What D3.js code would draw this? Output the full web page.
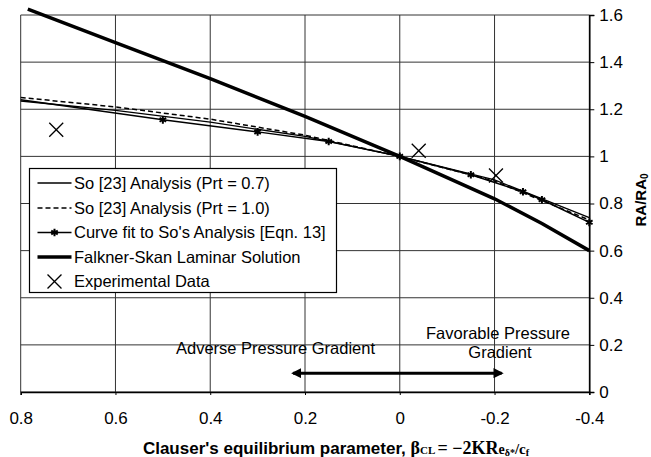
<!DOCTYPE html>
<html>
<head>
<meta charset="utf-8">
<script src="https://cdn.jsdelivr.net/npm/d3@7"></script>
<style>
  body { margin: 0; background: #fff; }
  text { font-family: "Liberation Sans", Arial, sans-serif; }
</style>
</head>
<body>
<svg id="chart" width="651" height="457"></svg>
<script>
// ---- data ----
const betaSo = [0.8, 0.6, 0.4, 0.2, 0, -0.2, -0.4];
const soPrt07 = [1.235, 1.195, 1.145, 1.085, 1.0, 0.9, 0.74];
const soPrt10 = [1.25, 1.21, 1.158, 1.09, 1.0, 0.895, 0.73];

const betaFit = [0.8, 0.5, 0.3, 0.15, 0, -0.15, -0.26, -0.3, -0.4];
const curveFit = [1.24, 1.155, 1.104, 1.063, 1.0, 0.922, 0.85, 0.816, 0.72];

const betaFS = [0.785, 0.6, 0.4, 0.2, 0, -0.1, -0.2, -0.3, -0.4];
const falknerSkan = [1.625, 1.483, 1.33, 1.17, 1.0, 0.91, 0.82, 0.715, 0.6];

const betaExp = [0.725, -0.04, -0.203];
const expData = [1.113, 1.024, 0.919];

const xTicks = [0.8, 0.6, 0.4, 0.2, 0, -0.2, -0.4];
const yTicks = [0, 0.2, 0.4, 0.6, 0.8, 1, 1.2, 1.4, 1.6];

const legendLabels = [
  "So [23] Analysis (Prt = 0.7)",
  "So [23] Analysis (Prt = 1.0)",
  "Curve fit to So's Analysis [Eqn. 13]",
  "Falkner-Skan Laminar Solution",
  "Experimental Data"
];

const svg = d3.select('#chart');

// plot box
const x = d3.scaleLinear().domain([0.8, -0.4]).range([20.7, 589.3]);
const y = d3.scaleLinear().domain([0, 1.6]).range([392, 15]);

// grid
const grid = svg.append('g');
grid.selectAll('.gx').data(xTicks).enter().append('line')
  .attr('x1', d => x(d)).attr('x2', d => x(d))
  .attr('y1', y(0)).attr('y2', y(1.6))
  .attr('stroke', '#333').attr('stroke-width', 1);
grid.selectAll('.gy').data(yTicks).enter().append('line')
  .attr('x1', x(0.8)).attr('x2', x(-0.4))
  .attr('y1', d => y(d)).attr('y2', d => y(d))
  .attr('stroke', '#333').attr('stroke-width', 1);

// axes
const yAxis = d3.axisRight(y).tickValues(yTicks).tickSize(5).tickPadding(5)
  .tickFormat(d => String(+d.toFixed(1)));
const yg = svg.append('g').attr('transform', `translate(${x(-0.4)},0)`).call(yAxis);
yg.select('.domain').attr('stroke', '#000').attr('stroke-width', 1.5);
yg.selectAll('text').attr('font-size', 17).attr('fill', '#000')
  .style('font-family', '"Liberation Sans", Arial, sans-serif');

const xAxis = d3.axisBottom(x).tickValues(xTicks).tickSize(3).tickPadding(17)
  .tickFormat(d => String(+d.toFixed(1)));
const xg = svg.append('g').attr('transform', `translate(0,${y(0)})`).call(xAxis);
xg.select('.domain').attr('stroke', '#000').attr('stroke-width', 1.5);
xg.selectAll('text').attr('font-size', 17).attr('fill', '#000')
  .style('font-family', '"Liberation Sans", Arial, sans-serif');

// series
const line = d3.line().x(d => x(d[0])).y(d => y(d[1]));

svg.append('path').datum(d3.zip(betaSo, soPrt07)).attr('d', line)
  .attr('fill', 'none').attr('stroke', '#000').attr('stroke-width', 1.3);
svg.append('path').datum(d3.zip(betaSo, soPrt10)).attr('d', line)
  .attr('fill', 'none').attr('stroke', '#000').attr('stroke-width', 1.5)
  .attr('stroke-dasharray', '5,3');
svg.append('path').datum(d3.zip(betaFit, curveFit)).attr('d', line)
  .attr('fill', 'none').attr('stroke', '#000').attr('stroke-width', 1.5);
svg.append('path').datum(d3.zip(betaFS, falknerSkan)).attr('d', line)
  .attr('fill', 'none').attr('stroke', '#000').attr('stroke-width', 3.5);

const star = d3.symbol().type(d3.symbolAsterisk).size(40);
const fitPts = d3.zip(betaFit, curveFit).slice(1);
svg.selectAll('.fitpt').data(fitPts).enter().append('path')
  .attr('d', star).attr('transform', d => `translate(${x(d[0])},${y(d[1])})`)
  .attr('stroke', '#000').attr('stroke-width', 2).attr('fill', 'none');

const cross = d3.symbol().type(d3.symbolTimes).size(90);
svg.selectAll('.exp').data(d3.zip(betaExp, expData)).enter().append('path')
  .attr('d', cross).attr('transform', d => `translate(${x(d[0])},${y(d[1])}) scale(1.2)`)
  .attr('fill', 'none').attr('stroke', '#000').attr('stroke-width', 1.1);

// legend
const lg = svg.append('g');
lg.append('rect').attr('x', 29.5).attr('y', 168.5).attr('width', 307).attr('height', 124)
  .attr('fill', '#fff').attr('stroke', '#000').attr('stroke-width', 1.2);
const rows = [183, 208, 232.5, 257, 281.5];
rows.forEach((ry, i) => {
  const x1 = 37.5, x2 = 71.5;
  if (i < 4) {
    const l = lg.append('line').attr('x1', x1).attr('x2', x2).attr('y1', ry).attr('y2', ry)
      .attr('stroke', '#000');
    if (i === 0) l.attr('stroke-width', 1.3);
    if (i === 1) l.attr('stroke-width', 1.5).attr('stroke-dasharray', '5,3');
    if (i === 2) {
      l.attr('stroke-width', 1.5);
      lg.append('path').attr('d', star).attr('transform', `translate(${(x1 + x2) / 2},${ry})`)
        .attr('stroke', '#000').attr('stroke-width', 2).attr('fill', 'none');
    }
    if (i === 3) l.attr('stroke-width', 3.5);
  } else {
    lg.append('path').attr('d', cross).attr('transform', `translate(54.5,${ry}) scale(1.2)`)
      .attr('fill', 'none').attr('stroke', '#000').attr('stroke-width', 1.1);
  }
  lg.append('text').attr('x', 74).attr('y', ry).attr('dy', '0.36em')
    .attr('font-size', 16.5).attr('textLength', null).text(legendLabels[i]);
});

// annotations
svg.append('text').attr('x', 275.5).attr('y', 348).attr('dy', '0.36em')
  .attr('text-anchor', 'middle').attr('font-size', 16.5).text('Adverse Pressure Gradient');
svg.append('text').attr('x', 498).attr('y', 333).attr('dy', '0.36em')
  .attr('text-anchor', 'middle').attr('font-size', 16.5).text('Favorable Pressure');
svg.append('text').attr('x', 500).attr('y', 352).attr('dy', '0.36em')
  .attr('text-anchor', 'middle').attr('font-size', 16.5).text('Gradient');

const defs = svg.append('defs');
['s', 'e'].forEach(k => {
  defs.append('marker').attr('id', 'ah' + k)
    .attr('viewBox', '0 0 10 10').attr('refX', 8).attr('refY', 5)
    .attr('markerWidth', 3.4).attr('markerHeight', 3.4)
    .attr('orient', 'auto-start-reverse').attr('markerUnits', 'strokeWidth')
    .append('path').attr('d', 'M0,0 L10,5 L0,10 Z').attr('fill', '#000');
});
const arrowY = 0.08;
svg.append('line')
  .attr('x1', x(0.225)).attr('x2', x(-0.215))
  .attr('y1', y(arrowY)).attr('y2', y(arrowY))
  .attr('stroke', '#000').attr('stroke-width', 3)
  .attr('marker-start', 'url(#ahs)').attr('marker-end', 'url(#ahe)');

// axis titles
svg.append('text').attr('transform', 'translate(641,200) rotate(-90)')
  .attr('text-anchor', 'middle').attr('dy', '0.3em')
  .attr('font-size', 15).attr('font-weight', 'bold')
  .text('RA/RA')
  .append('tspan').attr('font-size', 10).attr('dy', '0.25em').text('0');

const xt = svg.append('text').attr('x', 336).attr('y', 448).attr('dy', '0.36em')
  .attr('text-anchor', 'middle').attr('font-size', 17).attr('font-weight', 'bold');
xt.append('tspan').text("Clauser's equilibrium parameter, ");
const serif = '"Liberation Serif", "Times New Roman", serif';
xt.append('tspan').style('font-family', serif).attr('font-size', 18).text('β');
xt.append('tspan').style('font-family', serif).attr('font-size', 11).text('CL ');
xt.append('tspan').style('font-family', serif).attr('font-size', 18).text('= −2KR');
xt.append('tspan').style('font-family', serif).attr('font-size', 14).text('e');
xt.append('tspan').style('font-family', serif).attr('font-size', 10).attr('dy', 2).text('δ*');
xt.append('tspan').style('font-family', serif).attr('font-size', 15).attr('dy', -2).text('/c');
xt.append('tspan').style('font-family', serif).attr('font-size', 10).attr('dy', 2).text('f');
</script>
</body>
</html>
